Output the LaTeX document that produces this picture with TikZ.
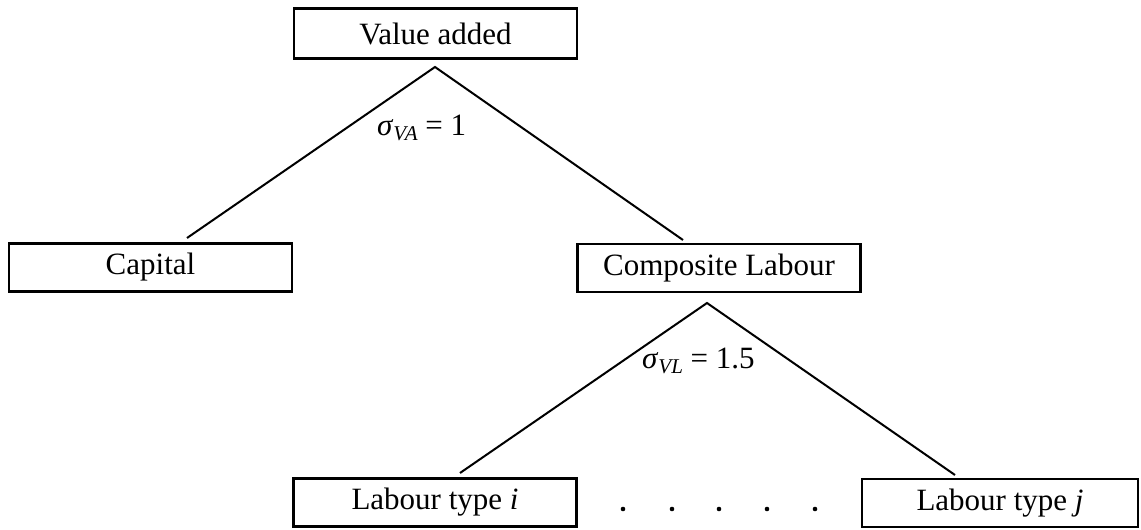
\documentclass[tikz,border=0pt]{standalone}
\usepackage{fontspec}
\setmainfont{Liberation Serif}
\begin{document}
\begin{tikzpicture}[x=1pt,y=-1pt,
  box/.style={draw,line width=2.8pt,rectangle,inner sep=0pt,minimum width=283pt,minimum height=48pt,font=\fontsize{31}{36}\selectfont},
  conn/.style={line width=2pt},
  lbl/.style={inner sep=0pt,anchor=base west,font=\fontsize{31}{36}\selectfont},
  dotmark/.style={fill=black}]
\useasboundingbox (0,0) rectangle (1141,530);
\newcommand{\sub}[1]{\raisebox{-0.17em}{\fontsize{21}{21}\selectfont\itshape #1}}
\node[box,minimum height=50pt] (va) at (435.5,33.5) {Value added};
\node[box] (cap) at (150.5,267.5) {Capital};
\node[box] (cl) at (719,268) {Composite Labour};
\node[box] (li) at (435,502.5) {Labour type \textit{i}};
\node[box,minimum width=276pt] (lj) at (1000,503) {Labour type \textit{j}};
\coordinate (a1) at (435,67);
\coordinate (e1) at (187,238);
\coordinate (e2) at (683,240);
\coordinate (a2) at (707,303);
\coordinate (e3) at (460,473);
\coordinate (e4) at (955,475);
\draw[conn] (e1) -- (a1) -- (e2);
\draw[conn] (e3) -- (a2) -- (e4);
\node[lbl] (s1) at (377,135) {\textit{σ}\sub{VA} = 1};
\node[lbl] (s2) at (642,368) {\textit{σ}\sub{VL} = 1.5};
\foreach \x in {623,672,719,767,815} \fill[dotmark] (\x,509) circle (2.3pt);
\end{tikzpicture}
\end{document}
